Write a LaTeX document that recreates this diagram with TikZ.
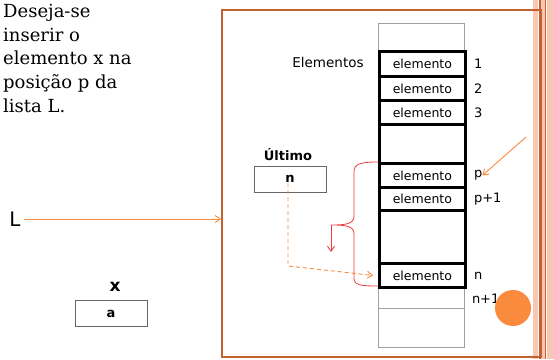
\documentclass[tikz,border=0pt]{standalone}
\usepackage{fontspec}
\setmainfont{DejaVu Serif}
\setsansfont{DejaVu Sans}
\usetikzlibrary{arrows.meta,calc}

\definecolor{moldura}{RGB}{196,98,45}
\definecolor{laranja}{RGB}{250,138,60}
\definecolor{faixa}{RGB}{250,198,180}
\definecolor{chave}{RGB}{240,60,60}

\tikzset{
  celula/.style={draw,line width=2.8pt,minimum width=86pt,inner sep=0pt,anchor=north west,
    font=\sffamily\fontsize{12.5}{13}\selectfont},
  vazia/.style={draw=gray!75,line width=0.8pt,minimum width=86pt,inner sep=0pt,anchor=north west},
  indice/.style={anchor=west,inner sep=0pt,font=\sffamily\fontsize{13}{13}\selectfont},
  caixa/.style={draw=gray!80!black,line width=0.9pt,minimum width=72pt,minimum height=26pt,inner sep=0pt,
    font=\sffamily\bfseries\fontsize{13}{13}\selectfont},
  seta/.style={-{Straight Barb[length=5pt,width=7pt]},line width=0.9pt}
}

\begin{document}
\begin{tikzpicture}[x=1pt,y=-1pt]
\useasboundingbox (0,0) rectangle (554,359);

% faixas da margem direita
\fill[faixa] (533,0) rectangle (537.5,359);
\fill[faixa] (541,0) rectangle (545,359);
\fill[faixa] (546.5,0) rectangle (554,359);
\draw[moldura,line width=1.2pt] (540,0) -- (540,359);
\draw[moldura,line width=1.2pt] (545.7,0) -- (545.7,359);

% moldura da lista
\node[draw=moldura,line width=1.5pt,minimum width=319pt,minimum height=347pt,inner sep=0pt,anchor=north west] (lista) at (221,9) {};

% enunciado
\node[anchor=north west,align=left,inner sep=0pt,font=\fontsize{18}{23.7}\selectfont] (enunciado) at (3,4)
  {Deseja-se\\inserir o\\elemento x na\\posição p da\\lista L.};

% coluna de elementos
\node[vazia,minimum height=27pt] (topo) at (378,23) {};
\node[vazia,minimum height=22pt] (en1) at (378,286) {};
\node[vazia,minimum height=39pt] (fundo) at (378,308) {};
\node[celula,minimum height=25pt] (e1) at (378,50) {elemento};
\node[celula,minimum height=24pt] (e2) at (378,75) {elemento};
\node[celula,minimum height=24pt] (e3) at (378,99) {elemento};
\node[celula,minimum height=39pt] (livre1) at (378,123) {};
\node[celula,minimum height=24pt] (ep) at (378,162) {elemento};
\node[celula,minimum height=23pt] (ep1) at (378,186) {elemento};
\node[celula,minimum height=53pt] (livre2) at (378,209) {};
\node[celula,minimum height=24pt] (en) at (378,262) {elemento};

\node[indice] (l1) at ([xshift=7pt]e1.east) {1};
\node[indice] (l2) at ([xshift=7pt]e2.east) {2};
\node[indice] (l3) at ([xshift=7pt]e3.east) {3};
\node[indice] (lp) at ([xshift=7pt]ep.east) {p};
\node[indice] (lp1) at ([xshift=7pt]ep1.east) {p+1};
\node[indice] (ln) at ([xshift=7pt]en.east) {n};
\node[indice] (ln1) at ([xshift=7pt,yshift=-1pt]en1.east) {n+1};

\node[font=\sffamily\fontsize{13.5}{14}\selectfont] (rotulo) at (328,62) {Elementos};

% ultimo
\node[font=\sffamily\bfseries\fontsize{13}{13}\selectfont] (tultimo) at (288,155) {Último};
\node[caixa] (ult) at (290,179) {n};

% elemento x
\node[font=\sffamily\bfseries\fontsize{17}{17}\selectfont] (tx) at (115,287) {x};
\node[caixa] (xa) at (111,313.5) {a};

% L
\node[font=\sffamily\fontsize{20}{20}\selectfont] (L) at (15,219) {L};
\draw[laranja,seta] (L) -- (L -| lista.west);

% setas
\coordinate (origem) at (526,137);
\draw[laranja,seta] (origem) -- (lp.east);
\draw[laranja,seta,dash pattern=on 4pt off 3pt] ($(ult.center)+(-2,4)$) -- ++(0,83) -- ($(en.west)+(-5,0)$);

% chave
\coordinate (ponta) at (331,225);
\draw[chave,line width=0.8pt] (378,162) .. controls (360,162) and (354,164) .. (354,172) -- (354,216)
  .. controls (354,224) and (346,225) .. (ponta) .. controls (346,225) and (354,226) .. (354,234)
  -- (354,278) .. controls (354,285) and (360,286) .. (378,286);
\draw[chave,seta] (ponta) -- ++(0,27);

% circulo
\fill[laranja] (513,308) circle (18pt);
\end{tikzpicture}
\end{document}
